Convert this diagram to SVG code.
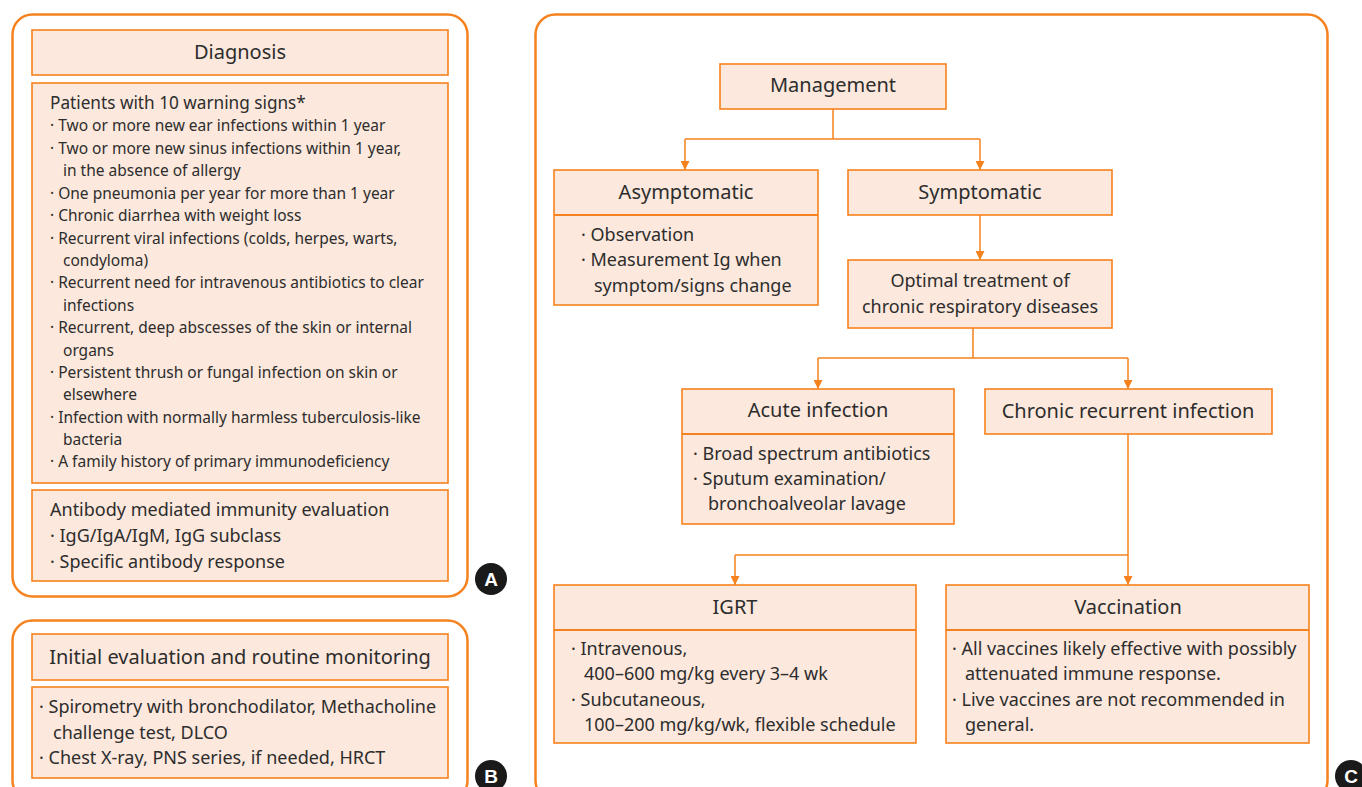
<svg xmlns="http://www.w3.org/2000/svg" width="1362" height="787" viewBox="0 0 1362 787">
<defs>
<style>
.panel{fill:#fff;stroke:#F5821F;stroke-width:2.5}
.box{fill:#FCE8DC;stroke:#F5821F;stroke-width:1.6}
.div{stroke:#F5821F;stroke-width:1.8}
.t{font-family:"Noto Sans","Liberation Sans",sans-serif;fill:#2d2d2d}
.h{font-size:20px;text-anchor:middle}
.s{font-size:15.5px}
.m{font-size:18px}
.c{fill:none;stroke:#F5821F;stroke-width:1.5}
.badge{fill:#1a1a1a}
.bl{font-family:"Liberation Sans",sans-serif;font-weight:bold;font-size:19px;fill:#fff;text-anchor:middle}
</style>
<marker id="ar" viewBox="0 0 10 10" refX="10" refY="5" markerWidth="9" markerHeight="9" markerUnits="userSpaceOnUse" orient="auto">
<path d="M0,0 L10,5 L0,10 z" fill="#F5821F"/>
</marker>
</defs>
<rect width="1362" height="787" fill="#fff"/>

<g id="panelA">
<rect class="panel" x="12.5" y="14.5" width="455" height="582" rx="20"/>
<g id="diagnosis">
<rect class="box" x="32" y="30" width="416" height="45"/>
<text class="t h" x="240" y="59">Diagnosis</text>
</g>
<g id="warning">
<rect class="box" x="32" y="83" width="416" height="400"/>
<text class="t" font-size="17.2" x="50" y="109">Patients with 10 warning signs*</text>
<g class="t s">
<text x="50" y="131">· Two or more new ear infections within 1 year</text>
<text x="50" y="154">· Two or more new sinus infections within 1 year,</text>
<text x="63" y="176">in the absence of allergy</text>
<text x="50" y="199">· One pneumonia per year for more than 1 year</text>
<text x="50" y="221">· Chronic diarrhea with weight loss</text>
<text x="50" y="244">· Recurrent viral infections (colds, herpes, warts,</text>
<text x="63" y="266">condyloma)</text>
<text x="50" y="288">· Recurrent need for intravenous antibiotics to clear</text>
<text x="63" y="311">infections</text>
<text x="50" y="333">· Recurrent, deep abscesses of the skin or internal</text>
<text x="63" y="356">organs</text>
<text x="50" y="378">· Persistent thrush or fungal infection on skin or</text>
<text x="63" y="400">elsewhere</text>
<text x="50" y="423">· Infection with normally harmless tuberculosis-like</text>
<text x="63" y="445">bacteria</text>
<text x="50" y="467">· A family history of primary immunodeficiency</text>
</g>
</g>
<g id="antibody">
<rect class="box" x="32" y="490" width="416" height="91"/>
<g class="t m">
<text x="50" y="516">Antibody mediated immunity evaluation</text>
<text x="50" y="542">· IgG/IgA/IgM, IgG subclass</text>
<text x="50" y="568">· Specific antibody response</text>
</g>
</g>
<g id="badgeA">
<circle class="badge" cx="491" cy="579" r="16"/>
<text class="bl" x="491" y="586">A</text>
</g>
</g>

<g id="panelB">
<rect class="panel" x="12.5" y="620.5" width="455" height="180" rx="20"/>
<g id="initial">
<rect class="box" x="32" y="634" width="416" height="46"/>
<text class="t h" x="240" y="664">Initial evaluation and routine monitoring</text>
</g>
<g id="monitoring">
<rect class="box" x="32" y="687" width="416" height="91"/>
<g class="t m">
<text x="39" y="713">· Spirometry with bronchodilator, Methacholine</text>
<text x="53" y="739">challenge test, DLCO</text>
<text x="39" y="764">· Chest X-ray, PNS series, if needed, HRCT</text>
</g>
</g>
<g id="badgeB">
<circle class="badge" cx="491" cy="776" r="16"/>
<text class="bl" x="491" y="783">B</text>
</g>
</g>

<g id="panelC">
<rect class="panel" x="535.5" y="14.5" width="792" height="786" rx="20"/>
<g id="badgeC">
<circle class="badge" cx="1351" cy="776" r="16"/>
<text class="bl" x="1351" y="783">C</text>
</g>
</g>

<g id="connectors">
<path class="c" d="M833,109 V139 M685,139 H980"/>
<path class="c" d="M685,139 V170" marker-end="url(#ar)"/>
<path class="c" d="M980,139 V170" marker-end="url(#ar)"/>
<path class="c" d="M980,215 V260" marker-end="url(#ar)"/>
<path class="c" d="M973,328 V358 M818,358 H1128"/>
<path class="c" d="M818,358 V389" marker-end="url(#ar)"/>
<path class="c" d="M1128,358 V389" marker-end="url(#ar)"/>
<path class="c" d="M1128,434 V585" marker-end="url(#ar)"/>
<path class="c" d="M1128,555 H735"/>
<path class="c" d="M735,555 V585" marker-end="url(#ar)"/>
</g>

<g id="management">
<rect class="box" x="720" y="64" width="226" height="45"/>
<text class="t h" x="833" y="92">Management</text>
</g>
<g id="asymptomatic">
<rect class="box" x="554" y="170" width="264" height="135"/>
<line class="div" x1="554" y1="215" x2="818" y2="215"/>
<text class="t h" x="686" y="199">Asymptomatic</text>
<g class="t m">
<text x="581" y="241">· Observation</text>
<text x="581" y="266">· Measurement Ig when</text>
<text x="594" y="292">symptom/signs change</text>
</g>
</g>
<g id="symptomatic">
<rect class="box" x="848" y="170" width="264" height="45"/>
<text class="t h" x="980" y="199">Symptomatic</text>
</g>
<g id="optimal">
<rect class="box" x="848" y="260" width="264" height="68"/>
<g class="t m" text-anchor="middle">
<text x="980" y="287">Optimal treatment of</text>
<text x="980" y="313">chronic respiratory diseases</text>
</g>
</g>
<g id="acute">
<rect class="box" x="682" y="389" width="272" height="135"/>
<line class="div" x1="682" y1="434" x2="954" y2="434"/>
<text class="t h" x="818" y="417">Acute infection</text>
<g class="t m">
<text x="693" y="460">· Broad spectrum antibiotics</text>
<text x="693" y="485">· Sputum examination/</text>
<text x="708" y="510">bronchoalveolar lavage</text>
</g>
</g>
<g id="chronic">
<rect class="box" x="985" y="389" width="287" height="45"/>
<text class="t h" x="1128" y="418">Chronic recurrent infection</text>
</g>
<g id="igrt">
<rect class="box" x="554" y="585" width="362" height="158"/>
<line class="div" x1="554" y1="630" x2="916" y2="630"/>
<text class="t h" x="735" y="614">IGRT</text>
<g class="t m">
<text x="571" y="655">· Intravenous,</text>
<text x="584" y="680">400–600 mg/kg every 3–4 wk</text>
<text x="571" y="706">· Subcutaneous,</text>
<text x="584" y="731">100–200 mg/kg/wk, flexible schedule</text>
</g>
</g>
<g id="vaccination">
<rect class="box" x="946" y="585" width="363" height="158"/>
<line class="div" x1="946" y1="630" x2="1309" y2="630"/>
<text class="t h" x="1128" y="614">Vaccination</text>
<g class="t m">
<text x="952" y="655">· All vaccines likely effective with possibly</text>
<text x="965" y="680">attenuated immune response.</text>
<text x="952" y="706">· Live vaccines are not recommended in</text>
<text x="965" y="731">general.</text>
</g>
</g>
</svg>
